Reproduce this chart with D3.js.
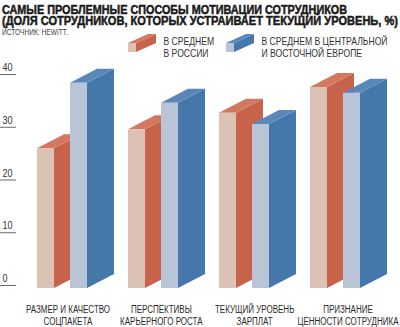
<!DOCTYPE html>
<html><head><meta charset="utf-8">
<script src="https://cdn.jsdelivr.net/npm/d3@7"></script>
<style>
html,body{margin:0;padding:0;background:#fff;}
svg{display:block;font-family:"Liberation Sans",Arial,sans-serif;}
</style></head>
<body><svg id="c" width="400" height="327"></svg>
<script>
const titleLines = ["САМЫЕ ПРОБЛЕМНЫЕ СПОСОБЫ МОТИВАЦИИ СОТРУДНИКОВ", "(ДОЛЯ СОТРУДНИКОВ, КОТОРЫХ УСТРАИВАЕТ ТЕКУЩИЙ УРОВЕНЬ, %)"];
const sourceText = "ИСТОЧНИК: HEWITT.";
const categories = ["РАЗМЕР И КАЧЕСТВО СОЦПАКЕТА", "ПЕРСПЕКТИВЫ КАРЬЕРНОГО РОСТА", "ТЕКУЩИЙ УРОВЕНЬ ЗАРПЛАТ", "ПРИЗНАНИЕ ЦЕННОСТИ СОТРУДНИКА"];
const categoryLines = [["РАЗМЕР И КАЧЕСТВО", "СОЦПАКЕТА"], ["ПЕРСПЕКТИВЫ", "КАРЬЕРНОГО РОСТА"], ["ТЕКУЩИЙ УРОВЕНЬ", "ЗАРПЛАТ"], ["ПРИЗНАНИЕ", "ЦЕННОСТИ СОТРУДНИКА"]];
const seriesNames = ["russia", "cee"];
const seriesLabels = [["В СРЕДНЕМ", "В РОССИИ"], ["В СРЕДНЕМ В ЦЕНТРАЛЬНОЙ", "И ВОСТОЧНОЙ ЕВРОПЕ"]];
const russia = [26.5, 30.1, 33.2, 38.1];
const cee = [38.9, 35.1, 31.1, 37.0];
const tickValues = [0, 10, 20, 30, 40];

const colors = {
  russia: {front: "#dcc2b5", side: "#c8634b", top: "#d3785f"},
  cee: {front: "#b9c5d6", side: "#4577ab", top: "#5a87ba"}
};

const svg = d3.select("#c");

function condense(sel, factor){
  sel.each(function(){
    const w = this.getComputedTextLength();
    d3.select(this).attr("textLength", w*factor).attr("lengthAdjust","spacingAndGlyphs");
  });
}

// Title
svg.append("g").selectAll("text").data(titleLines).join("text")
  .attr("x", 2).attr("y", (d,i)=> i===0 ? 13.5 : 25)
  .attr("font-size", 12.5).attr("font-weight","bold").attr("fill","#1a1a1a")
  .attr("stroke","#1a1a1a").attr("stroke-width",0.5)
  .text(d=>d)
  .attr("textLength", (d,i)=> i===0 ? 345 : 396).attr("lengthAdjust","spacingAndGlyphs");

svg.append("text").attr("x",2).attr("y",35).attr("font-size",9).attr("fill","#444")
  .text(sourceText).attr("textLength",66).attr("lengthAdjust","spacingAndGlyphs");

// Scales
const y = d3.scaleLinear().domain([0,40]).range([285,74]);
const x = d3.scaleBand().domain(categories).range([20,384]).padding(0);
const xs = d3.scaleOrdinal().domain(seriesNames).range([17, 50]);
const xl = d3.scalePoint().domain(categories).range([68,348]);

const barW = 17, dx = 27, dy = -14, baseOff = 3;

// Axis
const axis = d3.axisRight(y).tickValues(tickValues).tickSize(16).tickFormat(d3.format("d"));
const ag = svg.append("g").call(axis);
ag.select(".domain").remove();
ag.selectAll(".tick line").attr("stroke","#6a6a6a").attr("stroke-width",1);
ag.selectAll(".tick text").attr("x",2.5).attr("text-anchor","start")
  .attr("font-size",11).attr("fill","#333").attr("font-family","Liberation Sans, Arial, sans-serif")
  .each(function(){ this.removeAttribute("dy"); })
  .attr("y",-3.5);
condense(ag.selectAll(".tick text"), 0.82);

// Bars
function drawBar(g, x0, v, c){
  const yb = y(0)+baseOff, yt = y(v)+baseOff;
  const x1 = x0+barW;
  g.append("path").attr("d", `M${x1},${yt}L${x1+dx},${yt+dy}L${x1+dx},${yb+dy}L${x1},${yb}Z`).attr("fill", c.side);
  g.append("path").attr("d", `M${x0},${yt}L${x0+dx},${yt+dy}L${x1+dx},${yt+dy}L${x1},${yt}Z`).attr("fill", c.top);
  g.append("rect").attr("x",x0).attr("y",yt).attr("width",barW).attr("height",yb-yt).attr("fill",c.front);
}
const data = categories.map((c,i)=>({cat:c, russia:russia[i], cee:cee[i]}));
const bg = svg.append("g");
data.forEach(d=>{
  seriesNames.forEach(s=>{
    drawBar(bg, x(d.cat)+xs(s), d[s], colors[s]);
  });
});

// Category labels
const lg = svg.append("g");
categories.forEach((c,i)=>{
  categoryLines[i].forEach((line,j)=>{
    const t = lg.append("text").attr("x", xl(c)).attr("y", 313 + j*11.5)
      .attr("text-anchor","middle").attr("font-size",10).attr("fill","#2a2a2a").text(line);
    condense(t, 0.8);
  });
});

// Legend
const legX = [128, 226];
seriesNames.forEach((s,i)=>{
  const c = colors[s];
  const g = svg.append("g").attr("transform",`translate(${legX[i]},43)`);
  const w=8,h=9,ldx=20,ldy=-9;
  g.append("path").attr("d",`M${w},0L${w+ldx},${ldy}L${w+ldx},${h+ldy}L${w},${h}Z`).attr("fill",c.side);
  g.append("path").attr("d",`M0,0L${ldx},${ldy}L${w+ldx},${ldy}L${w},0Z`).attr("fill",c.top);
  g.append("rect").attr("x",0).attr("y",0).attr("width",w).attr("height",h).attr("fill",c.front);
  seriesLabels[i].forEach((line,j)=>{
    const t = svg.append("text").attr("x", legX[i]+35.5).attr("y", 44.5 + j*12.5)
      .attr("font-size",11).attr("fill","#333").text(line);
    condense(t, 0.78);
  });
});
</script></body></html>
